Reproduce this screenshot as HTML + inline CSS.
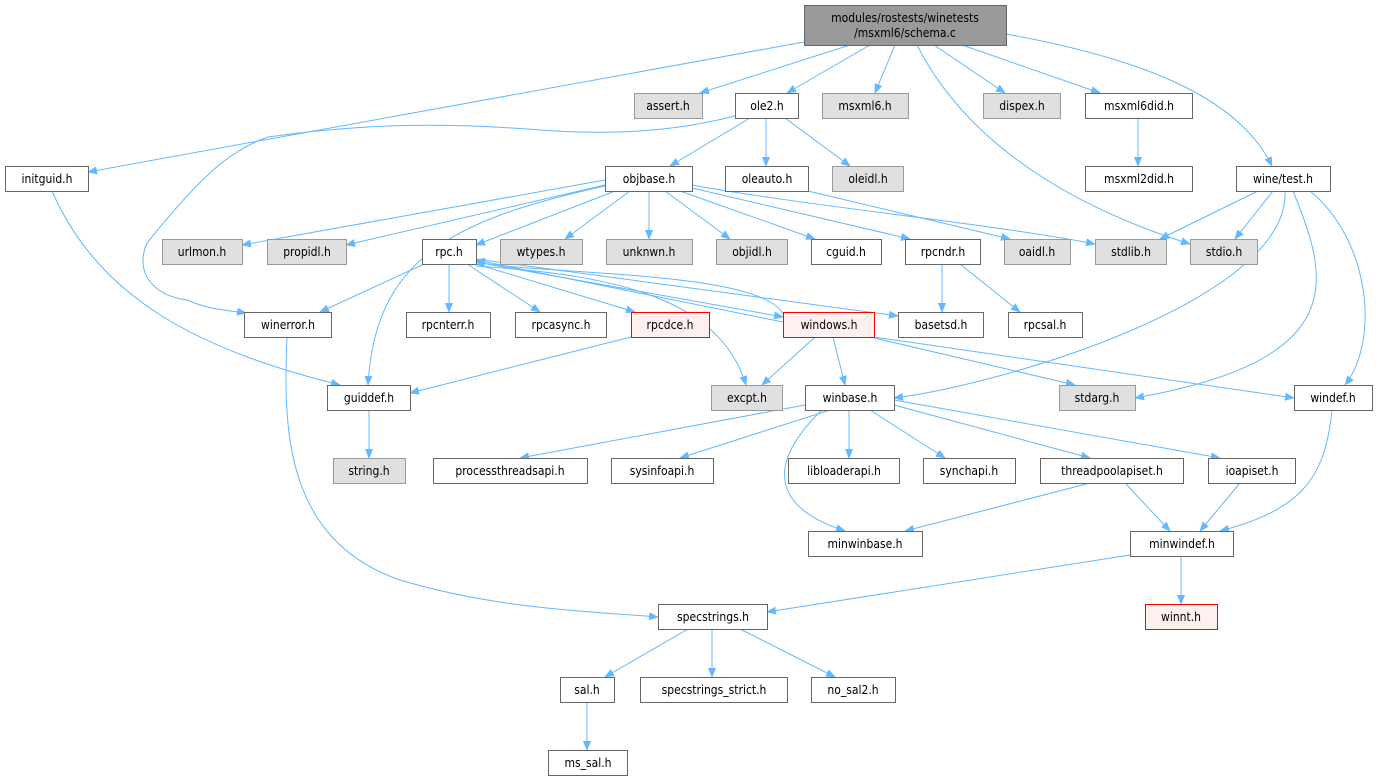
<!DOCTYPE html>
<html><head><meta charset="utf-8"><style>
html,body{margin:0;padding:0;background:#fff;}
svg{display:block;}
text{font-family:"DejaVu Sans Condensed","DejaVu Sans","Liberation Sans",sans-serif;font-size:12px;fill:#000;text-anchor:middle;}
.w{fill:#fff;stroke:#666;stroke-width:1;}
.g{fill:#e0e0e0;stroke:#999;stroke-width:1;}
.r{fill:#fff0f0;stroke:#f00;stroke-width:1;}
.m{fill:#999;stroke:#666;stroke-width:1;}
.e{fill:none;stroke:#63b8ff;stroke-width:1;marker-end:url(#a);}
</style></head><body>
<svg width="1381" height="784" viewBox="0 0 1381 784">
<defs><marker id="a" viewBox="0 0 10 10" refX="9" refY="5" markerWidth="10" markerHeight="10" markerUnits="userSpaceOnUse" orient="auto"><path d="M0,1 L10,5 L0,9 z" fill="#63b8ff"/></marker></defs>
<g>
<path class="e" d="M850,45 L700,93"/>
<path class="e" d="M804,42 L88,172"/>
<path class="e" d="M870,45 L787,93"/>
<path class="e" d="M895,45 L875,93"/>
<path class="e" d="M917,45 C960,130 1050,200 1190,244"/>
<path class="e" d="M934,45 L1005,93"/>
<path class="e" d="M962,45 L1100,93"/>
<path class="e" d="M1006,34 C1150,60 1240,100 1272,166"/>
<path class="e" d="M735,116 C680,130 620,136 540,130 C440,122 360,124 268,137 C230,150 200,177 147,243 C135,270 150,295 187,300 C210,310 225,310 246,313"/>
<path class="e" d="M750,118 L670,166"/>
<path class="e" d="M766,118 L766,166"/>
<path class="e" d="M785,118 L850,166"/>
<path class="e" d="M1138,118 L1138,166"/>
<path class="e" d="M52,191 C100,300 200,350 340,385"/>
<path class="e" d="M605,180 L242,245"/>
<path class="e" d="M605,185 L346,245"/>
<path class="e" d="M605,186 C450,220 375,260 368,385"/>
<path class="e" d="M615,191 L476,245"/>
<path class="e" d="M630,191 L565,239"/>
<path class="e" d="M649,191 L649,239"/>
<path class="e" d="M665,191 L730,239"/>
<path class="e" d="M680,191 L815,239"/>
<path class="e" d="M692,188 L910,239"/>
<path class="e" d="M692,185 C800,205 1000,225 1095,244"/>
<path class="e" d="M808,191 L1010,239"/>
<path class="e" d="M1258,191 L1160,239"/>
<path class="e" d="M1273,191 L1235,239"/>
<path class="e" d="M1285,191 C1290,300 1000,385 894,398"/>
<path class="e" d="M1293,191 C1330,280 1350,360 1135,398"/>
<path class="e" d="M1310,191 C1370,240 1380,340 1345,385"/>
<path class="e" d="M422,265 L320,312"/>
<path class="e" d="M449,264 L449,312"/>
<path class="e" d="M467,264 L540,312"/>
<path class="e" d="M476,264 L635,312"/>
<path class="e" d="M476,262 L783,317"/>
<path class="e" d="M783,322 L476,260"/>
<path class="e" d="M476,259 L898,316"/>
<path class="e" d="M783,314 C760,270 540,275 476,262"/>
<path class="e" d="M476,266 C620,275 720,300 746,385"/>
<path class="e" d="M942,264 L942,312"/>
<path class="e" d="M960,264 L1020,312"/>
<path class="e" d="M631,337 L410,393"/>
<path class="e" d="M287,337 C283,430 285,540 400,580 C500,610 600,612 658,617"/>
<path class="e" d="M815,337 L762,385"/>
<path class="e" d="M833,337 L845,385"/>
<path class="e" d="M870,337 L1075,385"/>
<path class="e" d="M874,337 L1294,398"/>
<path class="e" d="M369,410 L369,458"/>
<path class="e" d="M805,405 L520,458"/>
<path class="e" d="M830,410 L680,458"/>
<path class="e" d="M822,410 C760,470 780,510 845,531"/>
<path class="e" d="M849,410 L849,458"/>
<path class="e" d="M870,410 L945,458"/>
<path class="e" d="M894,405 L1090,458"/>
<path class="e" d="M894,400 L1220,458"/>
<path class="e" d="M1090,483 L905,531"/>
<path class="e" d="M1125,483 L1170,531"/>
<path class="e" d="M1240,483 L1200,531"/>
<path class="e" d="M1332,410 C1325,480 1300,510 1220,531"/>
<path class="e" d="M1130,555 L767,612"/>
<path class="e" d="M1181,556 L1181,604"/>
<path class="e" d="M688,629 L605,677"/>
<path class="e" d="M712,629 L712,677"/>
<path class="e" d="M740,629 L835,677"/>
<path class="e" d="M587,702 L587,750"/>
</g>
<g>
<rect class="m" x="804.5" y="5.5" width="202" height="40"/><text x="905" y="22">modules/rostests/winetests</text><text x="905" y="37">/msxml6/schema.c</text>
<rect class="g" x="634.5" y="93.5" width="68" height="25"/><text x="668" y="110">assert.h</text>
<rect class="w" x="735.5" y="93.5" width="63" height="25"/><text x="767" y="110">ole2.h</text>
<rect class="g" x="822.5" y="93.5" width="86" height="25"/><text x="865" y="110">msxml6.h</text>
<rect class="g" x="983.5" y="93.5" width="77" height="25"/><text x="1022" y="110">dispex.h</text>
<rect class="w" x="1085.5" y="93.5" width="107" height="25"/><text x="1139" y="110">msxml6did.h</text>
<rect class="w" x="5.5" y="166.5" width="83" height="25"/><text x="47" y="183">initguid.h</text>
<rect class="w" x="605.5" y="166.5" width="87" height="25"/><text x="649" y="183">objbase.h</text>
<rect class="w" x="725.5" y="166.5" width="83" height="25"/><text x="767" y="183">oleauto.h</text>
<rect class="g" x="832.5" y="166.5" width="71" height="25"/><text x="868" y="183">oleidl.h</text>
<rect class="w" x="1085.5" y="166.5" width="107" height="25"/><text x="1139" y="183">msxml2did.h</text>
<rect class="w" x="1236.5" y="166.5" width="94" height="25"/><text x="1283" y="183">wine/test.h</text>
<rect class="g" x="162.5" y="239.5" width="80" height="25"/><text x="202" y="256">urlmon.h</text>
<rect class="g" x="267.5" y="239.5" width="79" height="25"/><text x="307" y="256">propidl.h</text>
<rect class="w" x="422.5" y="239.5" width="54" height="25"/><text x="449" y="256">rpc.h</text>
<rect class="g" x="500.5" y="239.5" width="82" height="25"/><text x="541" y="256">wtypes.h</text>
<rect class="g" x="606.5" y="239.5" width="86" height="25"/><text x="649" y="256">unknwn.h</text>
<rect class="g" x="716.5" y="239.5" width="71" height="25"/><text x="752" y="256">objidl.h</text>
<rect class="w" x="811.5" y="239.5" width="70" height="25"/><text x="846" y="256">cguid.h</text>
<rect class="w" x="905.5" y="239.5" width="75" height="25"/><text x="943" y="256">rpcndr.h</text>
<rect class="g" x="1004.5" y="239.5" width="66" height="25"/><text x="1037" y="256">oaidl.h</text>
<rect class="g" x="1095.5" y="239.5" width="71" height="25"/><text x="1131" y="256">stdlib.h</text>
<rect class="g" x="1190.5" y="239.5" width="67" height="25"/><text x="1224" y="256">stdio.h</text>
<rect class="w" x="244.5" y="312.5" width="87" height="25"/><text x="288" y="329">winerror.h</text>
<rect class="w" x="406.5" y="312.5" width="84" height="25"/><text x="448" y="329">rpcnterr.h</text>
<rect class="w" x="515.5" y="312.5" width="91" height="25"/><text x="561" y="329">rpcasync.h</text>
<rect class="r" x="631.5" y="312.5" width="78" height="25"/><text x="670" y="329">rpcdce.h</text>
<rect class="r" x="783.5" y="312.5" width="91" height="25"/><text x="829" y="329">windows.h</text>
<rect class="w" x="898.5" y="312.5" width="85" height="25"/><text x="941" y="329">basetsd.h</text>
<rect class="w" x="1008.5" y="312.5" width="74" height="25"/><text x="1045" y="329">rpcsal.h</text>
<rect class="w" x="327.5" y="385.5" width="83" height="25"/><text x="369" y="402">guiddef.h</text>
<rect class="g" x="711.5" y="385.5" width="71" height="25"/><text x="747" y="402">excpt.h</text>
<rect class="w" x="805.5" y="385.5" width="89" height="25"/><text x="850" y="402">winbase.h</text>
<rect class="g" x="1059.5" y="385.5" width="76" height="25"/><text x="1097" y="402">stdarg.h</text>
<rect class="w" x="1294.5" y="385.5" width="78" height="25"/><text x="1333" y="402">windef.h</text>
<rect class="g" x="333.5" y="458.5" width="72" height="25"/><text x="369" y="475">string.h</text>
<rect class="w" x="433.5" y="458.5" width="154" height="25"/><text x="510" y="475">processthreadsapi.h</text>
<rect class="w" x="611.5" y="458.5" width="102" height="25"/><text x="662" y="475">sysinfoapi.h</text>
<rect class="w" x="788.5" y="458.5" width="111" height="25"/><text x="844" y="475">libloaderapi.h</text>
<rect class="w" x="923.5" y="458.5" width="92" height="25"/><text x="969" y="475">synchapi.h</text>
<rect class="w" x="1040.5" y="458.5" width="143" height="25"/><text x="1112" y="475">threadpoolapiset.h</text>
<rect class="w" x="1208.5" y="458.5" width="87" height="25"/><text x="1252" y="475">ioapiset.h</text>
<rect class="w" x="808.5" y="531.5" width="114" height="25"/><text x="865" y="548">minwinbase.h</text>
<rect class="w" x="1130.5" y="531.5" width="103" height="25"/><text x="1182" y="548">minwindef.h</text>
<rect class="w" x="658.5" y="604.5" width="109" height="25"/><text x="713" y="621">specstrings.h</text>
<rect class="r" x="1145.5" y="604.5" width="72" height="25"/><text x="1181" y="621">winnt.h</text>
<rect class="w" x="560.5" y="677.5" width="54" height="25"/><text x="587" y="694">sal.h</text>
<rect class="w" x="640.5" y="677.5" width="147" height="25"/><text x="714" y="694">specstrings_strict.h</text>
<rect class="w" x="811.5" y="677.5" width="84" height="25"/><text x="853" y="694">no_sal2.h</text>
<rect class="w" x="548.5" y="750.5" width="79" height="25"/><text x="588" y="767">ms_sal.h</text>
</g>
</svg>
</body></html>
